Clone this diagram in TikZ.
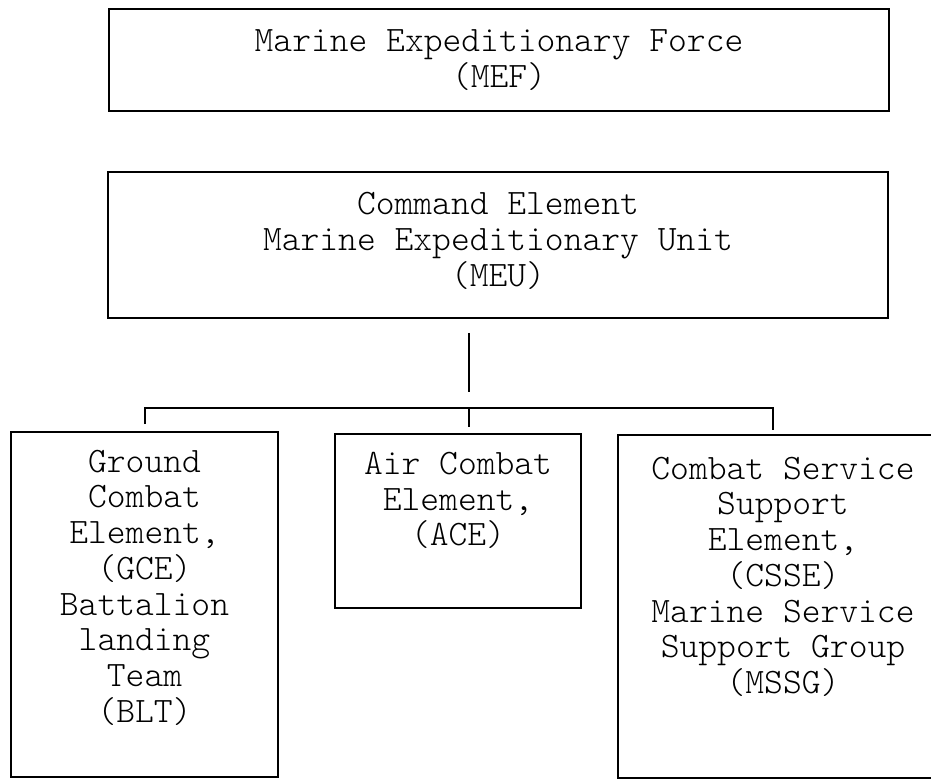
\documentclass[tikz,border=0pt]{standalone}
\begin{document}
\begin{tikzpicture}[x=1pt,y=-1pt,
  box/.style={draw=black, line width=2.4pt, rectangle, inner sep=0pt},
  lbl/.style={font=\ttfamily\fontseries{l}\fontsize{35.8}{35.7}\selectfont, align=center, inner sep=0pt},
  wire/.style={draw=black, line width=2.2pt}]
\useasboundingbox (0,0) rectangle (931,783);
% top boxes
\node[box, lbl, minimum width=780pt, minimum height=102pt] (mef) at (499,60)
  {Marine Expeditionary Force\\(MEF)};
\node[box, minimum width=780pt, minimum height=146pt] (ce) at (498,245) {};
\node[lbl] (cetext) at (498,241) {Command Element\\Marine Expeditionary Unit\\(MEU)};
% lower boxes
\node[box, minimum width=267pt, minimum height=345pt] (gce) at (144.5,604.5) {};
\node[box, minimum width=246pt, minimum height=174pt] (ace) at (458,521) {};
\node[box, minimum width=330pt, minimum height=343pt] (csse) at (783,606.5) {};
\node[lbl, anchor=north] (gcetext) at ([yshift=-19pt]gce.north)
  {Ground\\Combat\\Element,\\(GCE)\\Battalion\\landing\\Team\\(BLT)};
\node[lbl, anchor=north] (acetext) at ([yshift=-19pt]ace.north)
  {Air Combat\\Element,\\(ACE)};
\node[lbl, anchor=north] (cssetext) at ([yshift=-23pt]csse.north)
  {Combat Service\\Support\\Element,\\(CSSE)\\Marine Service\\Support Group\\(MSSG)};
% connectors
\coordinate (s1) at (469,333);
\coordinate (s2) at (469,392);
\coordinate (bl) at (145,408);
\coordinate (bm) at (469,408);
\coordinate (br) at (773,408);
\coordinate (tl) at (145,424);
\coordinate (tm) at (469,427);
\coordinate (tr) at (773,430);
\draw[wire] (s1) -- (s2);
\draw[wire] (tl) -- (bl) -- (br) -- (tr);
\draw[wire] (bm) -- (tm);
\end{tikzpicture}
\end{document}
